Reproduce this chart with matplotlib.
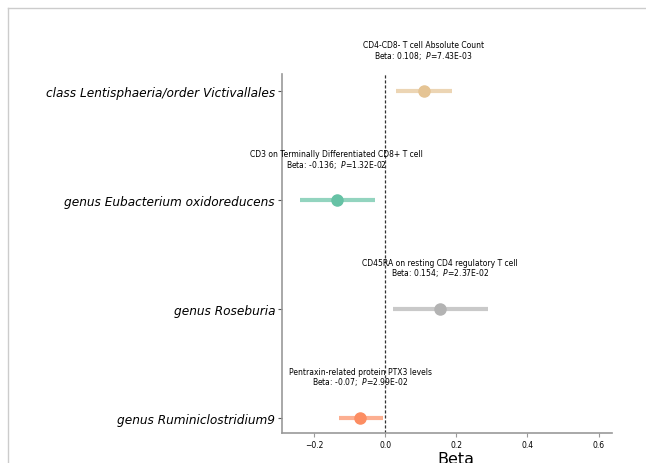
import matplotlib
matplotlib.use("Agg")
import matplotlib.pyplot as plt
from matplotlib.lines import Line2D

# exposures (y axis), outcomes and MR estimates
exposures = ["class Lentisphaeria/order Victivallales",
             "genus Eubacterium oxidoreducens",
             "genus Roseburia",
             "genus Ruminiclostridium9"]
outcomes = ["CD4-CD8- T cell Absolute Count",
            "CD3 on Terminally Differentiated CD8+ T cell",
            "CD45RA on resting CD4 regulatory T cell",
            "Pentraxin-related protein PTX3 levels"]
beta = [0.108, -0.136, 0.154, -0.07]
ci_low = [0.031, -0.238, 0.022, -0.129]
ci_high = [0.188, -0.028, 0.289, -0.006]
pvals = ["7.43E-03", "1.32E-02", "2.37E-02", "2.99E-02"]
colors = ["#e5c494", "#66c2a5", "#b3b3b3", "#fc8d62"]

fig = plt.figure(figsize=(6.46, 4.64), dpi=100)
ax = fig.add_axes([0.4365, 0.0647, 0.5105, 0.7733])

for i in range(len(exposures)):
    ax.plot([ci_low[i], ci_high[i]], [i, i], color=colors[i], lw=3, alpha=0.7,
            solid_capstyle="butt", zorder=2)
    ax.plot(beta[i], i, "o", color=colors[i], ms=8, zorder=3)
    ax.text(beta[i], i - 0.28,
            f"{outcomes[i]}\nBeta: {beta[i]};  $\\it{{P}}$={pvals[i]}",
            ha="center", va="bottom", fontsize=5.5, linespacing=0.95, zorder=4)

ax.axvline(0, color="#333333", ls="--", lw=0.9, dashes=(2.5, 1.5), zorder=1)

ax.set_yticks(range(len(exposures)))
ax.set_yticklabels(exposures, fontsize=8.7, style="italic")
ax.set_ylim(3.14, -0.156)
ax.set_xlim(-0.29, 0.637)
ax.set_xticks([-0.2, 0.0, 0.2, 0.4, 0.6])
ax.tick_params(axis="x", labelsize=5.5, length=3, color="#999999", pad=2)
ax.tick_params(axis="y", length=3, color="#555555", pad=2)
ax.set_xlabel("Beta", fontsize=11.5)
ax.xaxis.set_label_coords(0.526, -0.05, transform=ax.transAxes)
ax.xaxis.label.set_va("top")

for s in ["top", "right"]:
    ax.spines[s].set_visible(False)
for s in ["left", "bottom"]:
    ax.spines[s].set_color("#999999")
    ax.spines[s].set_linewidth(1.2)

# notebook output frame
fig.add_artist(Line2D([8 / 646, 1], [1 - 9 / 464, 1 - 9 / 464], color="#cccccc", lw=1))
fig.add_artist(Line2D([8 / 646, 8 / 646], [0, 1 - 9 / 464], color="#cccccc", lw=1))

fig.savefig("out.png", dpi=100)
